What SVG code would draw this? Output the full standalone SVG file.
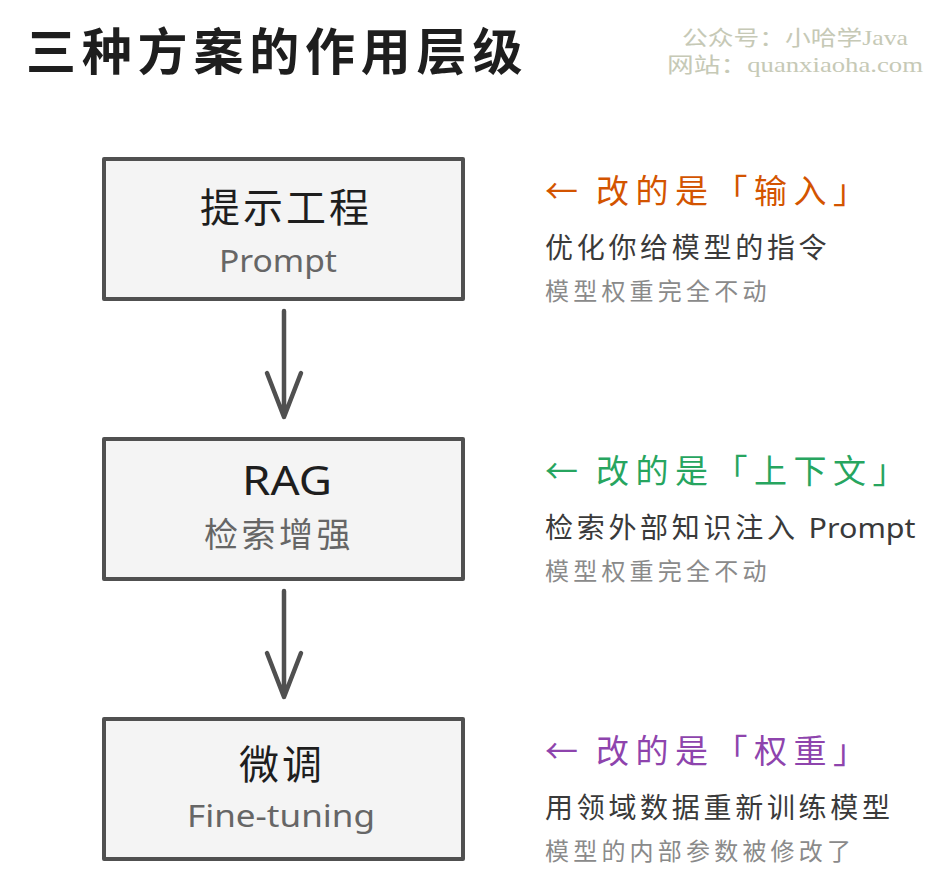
<svg xmlns="http://www.w3.org/2000/svg" width="943" height="891" viewBox="0 0 943 891">
<style>
.cjk{font-family:"Noto Sans CJK SC","Noto Sans",sans-serif}
.hand{font-family:"Noto Sans","Noto Sans CJK SC",sans-serif}
.box{fill:#f4f4f4;stroke:#505050;stroke-width:4;stroke-linejoin:round}
.ttl{font-size:40px;fill:#1e1e1e;letter-spacing:3px;text-anchor:middle}
.sub{fill:#666}
.lead{font-size:33px;letter-spacing:6.5px}
.desc{font-size:28px;fill:#3a3a3a;letter-spacing:3.7px}
.note{font-size:24px;fill:#8a8a8a;letter-spacing:4.2px}
.wm{font-family:"Liberation Serif","Noto Sans CJK SC",serif;font-size:21px;fill:#c6c9b6}
.arr{fill:none;stroke:#505050;stroke-width:4.5;stroke-linecap:round;stroke-linejoin:round}
</style>
<rect width="943" height="891" fill="#ffffff"/>
<g id="title">
<text class="cjk" x="26" y="70" font-size="50" font-weight="600" letter-spacing="5.8" fill="#1e1e1e">三种方案的作用层级</text>
</g>
<g id="watermark">
<text class="wm" x="682" y="45" textLength="226" lengthAdjust="spacingAndGlyphs">公众号：小哈学Java</text>
<text class="wm" x="667" y="72" textLength="256" lengthAdjust="spacingAndGlyphs">网站：quanxiaoha.com</text>
</g>
<g id="connectors">
<path class="arr" d="M284 311 L284 417 M267 373 L284 417 L301 373"/>
<path class="arr" d="M284 591 L284 697 M267 653 L284 697 L301 653"/>
</g>
<g id="node-prompt">
<rect class="box" x="104" y="159" width="359" height="140"/>
<text class="cjk ttl" x="286" y="222">提示工程</text>
<text class="hand sub" x="278" y="272" font-size="31" text-anchor="middle" textLength="118" lengthAdjust="spacingAndGlyphs">Prompt</text>
</g>
<g id="node-rag">
<rect class="box" x="104" y="439" width="359" height="140"/>
<text class="hand" x="287" y="495" font-size="40" fill="#1e1e1e" text-anchor="middle" textLength="90" lengthAdjust="spacingAndGlyphs">RAG</text>
<text class="cjk sub" x="279" y="547" font-size="34" letter-spacing="3.5" text-anchor="middle">检索增强</text>
</g>
<g id="node-finetune">
<rect class="box" x="104" y="719" width="359" height="140"/>
<text class="cjk ttl" x="282" y="779">微调</text>
<text class="hand sub" x="281" y="827" font-size="31" text-anchor="middle" textLength="188" lengthAdjust="spacingAndGlyphs">Fine-tuning</text>
</g>
<g id="label-prompt">
<text class="cjk lead" y="203" fill="#d35400"><tspan x="545">← </tspan><tspan x="596">改的是「输入」</tspan></text>
<text class="cjk desc" x="545" y="258">优化你给模型的指令</text>
<text class="cjk note" x="545" y="300">模型权重完全不动</text>
</g>
<g id="label-rag">
<text class="cjk lead" y="483" fill="#27a55f"><tspan x="545">← </tspan><tspan x="596">改的是「上下文」</tspan></text>
<text class="cjk desc" x="545" y="538">检索外部知识注入 <tspan class="hand" letter-spacing="0" textLength="107" lengthAdjust="spacingAndGlyphs">Prompt</tspan></text>
<text class="cjk note" x="545" y="580">模型权重完全不动</text>
</g>
<g id="label-finetune">
<text class="cjk lead" y="763" fill="#8e44ad"><tspan x="545">← </tspan><tspan x="596">改的是「权重」</tspan></text>
<text class="cjk desc" x="545" y="818">用领域数据重新训练模型</text>
<text class="cjk note" x="545" y="860">模型的内部参数被修改了</text>
</g>
</svg>
